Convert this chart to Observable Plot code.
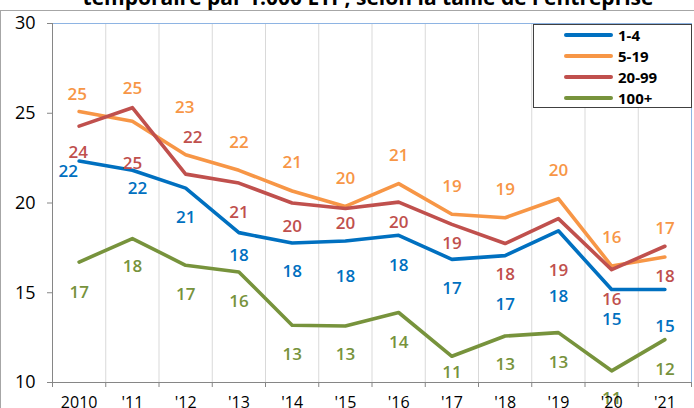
<!DOCTYPE html>
<html><head><meta charset="utf-8">
<script src="https://cdn.jsdelivr.net/npm/d3@7"></script>
<script src="https://cdn.jsdelivr.net/npm/@observablehq/plot@0.6"></script>
<style>
body{margin:0;background:#fff;font-family:"Open Sans",sans-serif;}
#wrap{position:relative;width:694px;height:408px;overflow:hidden;background:#fff;}
#title{height:10px;overflow:hidden;position:relative;}
#title div{position:absolute;left:0;width:736px;text-align:center;top:-13px;font-weight:bold;font-size:21px;line-height:21px;white-space:nowrap;color:#000;}
#frame{position:absolute;left:0;top:10px;width:720px;height:420px;border-top:1px solid #a6a6a6;border-left:1px solid #a6a6a6;pointer-events:none;}
#legend{position:absolute;left:533px;top:24px;width:157px;height:82px;background:#fff;border:1px solid #404040;}
#legend .row{position:absolute;left:0;height:21px;width:157px;}
#legend .sw{position:absolute;left:30px;top:8px;width:49px;height:4px;border-radius:2px;}
#legend .lb{position:absolute;left:84px;top:0;font-weight:bold;font-size:15px;line-height:21px;color:#000;}
svg{display:block;}
</style>
</head><body>
<div id="wrap">
  <div id="title"><div>temporaire par 1.000 ETP, selon la taille de l'entreprise</div></div>
  <div id="chart"></div>
  <div id="frame"></div>
  <div id="legend"></div>
</div>
<script>
// ---- data ----
const years = ["2010","'11","'12","'13","'14","'15","'16","'17","'18","'19","'20","'21"];
const series = ["1-4","5-19","20-99","100+"];
const v1_4   = [22.34,21.82,20.83,18.35,17.77,17.88,18.20,16.86,17.07,18.45,15.18,15.18];
const v5_19  = [25.10,24.55,22.69,21.82,20.67,19.81,21.08,19.37,19.18,20.24,16.49,16.99];
const v20_99 = [24.28,25.31,21.61,21.11,20.00,19.69,20.05,18.81,17.74,19.13,16.29,17.59];
const v100   = [16.71,18.02,16.53,16.16,13.19,13.15,13.90,11.46,12.59,12.78,10.65,12.39];
const yTicks = [10,15,20,25,30];

// ---- style / layout ----
const colors = ["#0070C0","#F79646","#C0504D","#77933C"];
const labelDy = [
  [11,18,29,23,29,35,30,29,49,66,30,37],
  [-17,-33,-47,-28,-28,-28,-28,-28,-28,-28,-28,-28],
  [26,56,-37,29,24,15,20,19,31,52,30,30],
  [30,28,29,30,29,29,30,16,29,30,28,30]
];
const labelDx = [
  [-11,5,0,0,0,0,0,0,0,0,0,0],
  [-2,0,-1,0,0,0,0,0,0,0,0,0],
  [-1,0,7,0,0,0,0,0,0,0,0,0],
  [0,0,0,0,0,0,0,0,0,0,0,0]
];

const values = [v1_4, v5_19, v20_99, v100];
const rows = [];
values.forEach((arr, s) => arr.forEach((v, i) => rows.push({s: series[s], i, v, dx: labelDx[s][i], dy: labelDy[s][i]})));

const labelMarks = d3.groups(rows, d => d.dx + "," + d.dy).map(([k, g]) =>
  Plot.text(g, {x: "i", y: "v", text: d => String(Math.round(d.v)), fill: "s",
    dx: g[0].dx, dy: g[0].dy, fontSize: 17, fontWeight: 600}));

const chart = Plot.plot({
  width: 694, height: 398,
  marginLeft: 52, marginRight: 3, marginTop: 13, marginBottom: 26,
  style: {fontFamily: "'Open Sans', sans-serif", background: "transparent", color: "#000"},
  x: {type: "linear", domain: [-0.5, 11.5], axis: null},
  y: {domain: [10, 30], axis: null},
  color: {domain: series, range: colors},
  marks: [
    Plot.ruleX(d3.range(0.5, 11, 1), {stroke: "#d9d9d9", strokeWidth: 1}),
    Plot.ruleY([30], {stroke: "#8eb4e3"}),
    Plot.ruleX([11.5], {stroke: "#8eb4e3"}),
    Plot.ruleX([-0.5], {stroke: "#868686"}),
    Plot.ruleY([10], {stroke: "#868686"}),
    Plot.line(rows, {x: "i", y: "v", z: "s", stroke: "s", strokeWidth: 3.6, strokeLinejoin: "round"}),
    ...labelMarks,
    Plot.axisY({ticks: yTicks, tickSize: 5, tickPadding: 12, fontSize: 18, stroke: "#868686", fill: "#000", label: null}),
    Plot.axisX({ticks: d3.range(-0.5, 12, 1), tickSize: 5, tickFormat: () => "", stroke: "#868686", label: null}),
    Plot.axisX({ticks: d3.range(0, 12), tickSize: 0, tickPadding: 14, tickFormat: i => years[i], fontSize: 16, fill: "#000", label: null})
  ]
});
document.getElementById("chart").appendChild(chart);

const lg = document.getElementById("legend");
series.forEach((s, k) => {
  const r = document.createElement("div");
  r.className = "row";
  r.style.top = (21 * k) + "px";
  r.innerHTML = `<div class="sw" style="background:${colors[k]}"></div><div class="lb">${s}</div>`;
  lg.appendChild(r);
});
</script>
</body></html>
